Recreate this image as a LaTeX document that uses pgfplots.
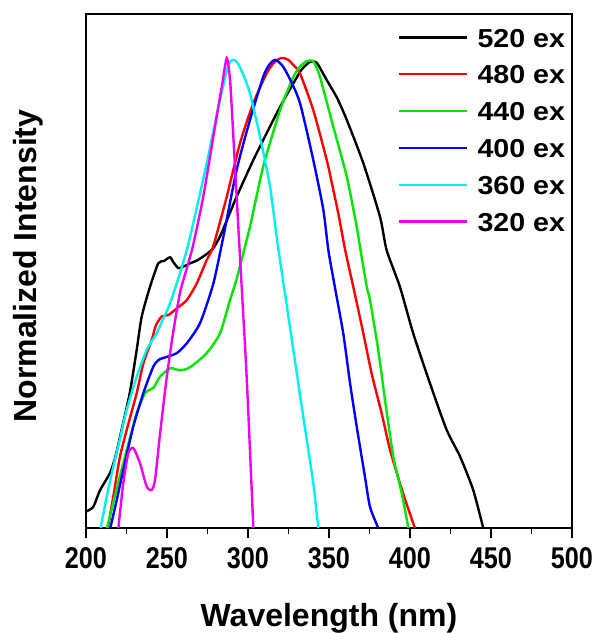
\documentclass[border=0pt]{standalone}
\usepackage{fontspec}
\setmainfont{Liberation Sans}
\newfontfamily\tickfont{Liberation Sans}[FakeStretch=0.84]
\newfontfamily\legfont{Liberation Sans}[FakeStretch=1.1]
\usepackage{pgfplots}
\pgfplotsset{compat=1.18}
\definecolor{cred}{RGB}{255,0,0}
\definecolor{cgreen}{RGB}{0,230,0}
\definecolor{cblue}{RGB}{0,0,255}
\definecolor{ccyan}{RGB}{0,240,240}
\definecolor{cmag}{RGB}{240,0,240}
\begin{document}
\begin{tikzpicture}
\useasboundingbox (-86pt,-105pt) rectangle (517pt,528pt);
\begin{axis}[
  scale only axis, width=486pt, height=514pt, at={(0pt,0pt)}, anchor=south west,
  xmin=200, xmax=500, ymin=0, ymax=1.0936,
  xtick={200,250,...,500}, minor x tick num=1, ytick=\empty,
  xtick pos=bottom, tick align=outside,
  major tick length=10pt, minor tick length=6pt,
  axis line style={line width=1.7pt},
  tick style={line width=1.7pt, black},
  /pgf/number format/assume math mode=true,
  xticklabel style={font=\tickfont\bfseries\fontsize{30}{30}\selectfont, inner sep=0pt, anchor=north, yshift=-9pt},
  xlabel={Wavelength (nm)},
  xlabel style={font=\bfseries\fontsize{32}{32}\selectfont, at={(axis description cs:0.5,0)}, anchor=north, inner sep=0pt, yshift=-75pt},
  ylabel={Normalized Intensity},
  ylabel style={font=\bfseries\fontsize{32}{32}\selectfont, at={([xshift=-43pt,yshift=5pt]axis description cs:0,0.5)}, anchor=south, inner sep=0pt},
  legend style={draw=none, fill=none, at={(axis description cs:1,1)}, anchor=north east, xshift=-7pt, yshift=-14pt, inner sep=0pt, outer sep=0pt,
    font=\legfont\bfseries\fontsize{26}{26}\selectfont, row sep=17.8pt, column sep=9pt,
    nodes={inner sep=0pt, text height=19pt, text depth=0pt}},
  legend cell align=left,
  legend image code/.code={\draw[#1, line width=2.2pt] (0pt,0pt) -- (68pt,0pt);},
  every axis plot/.append style={line width=2.4pt, smooth, tension=0.4},
]
% 520 ex
\addplot[black] coordinates {
(200,0.035) (204.5,0.045) (208.6,0.08) (214.8,0.117) (218,0.15) (221,0.194) (227,0.287) (231.3,0.379) (234.4,0.45) (239.5,0.513) (244.6,0.563) (248,0.568) (251.9,0.576) (254,0.565) (257,0.553) (260,0.556) (264.2,0.563) (269,0.57) (274.5,0.583) (278.5,0.595) (282.7,0.62) (287,0.655) (293,0.705) (303.3,0.783) (315.6,0.868) (322,0.91) (328,0.946) (333,0.975) (338.3,0.992) (342.4,0.99) (348.6,0.953) (355,0.915) (361,0.868) (371.2,0.776) (381.5,0.662) (385.6,0.591) (393.8,0.513) (402,0.414) (412.3,0.308) (422.6,0.209) (430.9,0.152) (439,0.081) (445.2,0.0)
};
\addlegendentry{520 ex}
% 480 ex
\addplot[cred] coordinates {
(213.5,0) (217,0.07) (221,0.152) (226,0.22) (231.3,0.287) (235.4,0.35) (240.6,0.4) (243,0.43) (246.7,0.45) (250.8,0.453) (256,0.467) (262.2,0.485) (268.3,0.52) (274.5,0.57) (278.6,0.6) (286.9,0.705) (295,0.818) (303.3,0.904) (311.5,0.967) (316,0.99) (320.5,1.0) (324.5,0.997) (328,0.985) (332.1,0.967) (340.3,0.889) (348.6,0.783) (352,0.73) (356,0.665) (360,0.591) (365,0.513) (371.2,0.414) (376.3,0.329) (382.5,0.244) (387.7,0.166) (393.8,0.095) (398,0.05) (403,0)
};
\addlegendentry{480 ex}
% 440 ex
\addplot[cgreen] coordinates {
(213,0) (218,0.07) (223,0.138) (227,0.19) (231.3,0.244) (236.4,0.287) (239.5,0.294) (242,0.3) (245.7,0.322) (251.9,0.34) (255,0.338) (258,0.336) (262,0.338) (266.2,0.347) (274.5,0.372) (282.7,0.414) (288.9,0.485) (293,0.53) (301.2,0.641) (309.4,0.769) (319.8,0.889) (328,0.96) (333,0.985) (336.2,0.993) (340.3,0.993) (344.4,0.96) (352.7,0.853) (361,0.747) (367.1,0.641) (369.5,0.591) (373.3,0.513) (375.3,0.485) (380.4,0.379) (384.6,0.272) (389.7,0.152) (394.9,0.074) (399,0)
};
\addlegendentry{440 ex}
% 400 ex
\addplot[cblue] coordinates {
(215,0) (219,0.06) (223,0.123) (229.2,0.216) (235.4,0.287) (241.5,0.343) (245,0.358) (249.8,0.364) (256,0.372) (262.2,0.393) (270.4,0.436) (278.6,0.52) (284.8,0.62) (293,0.762) (301.2,0.868) (309.4,0.96) (313,0.985) (316.5,0.996) (319.5,0.99) (322,0.98) (325.9,0.955) (332.1,0.904) (340.3,0.783) (346.5,0.677) (349.6,0.591) (353.5,0.515) (358.8,0.414) (363,0.308) (367.1,0.216) (372.2,0.109) (375.3,0.045) (380.4,0)
};
\addlegendentry{400 ex}
% 360 ex
\addplot[ccyan] coordinates {
(209,0) (213,0.07) (216.8,0.13) (221,0.19) (225.1,0.251) (231.3,0.322) (237.5,0.379) (243.6,0.414) (247,0.44) (251.9,0.478) (258,0.542) (262.2,0.591) (266.2,0.648) (274.5,0.776) (282.7,0.911) (287.9,0.985) (290.9,0.996) (293.5,0.99) (297,0.965) (301.2,0.925) (307.4,0.833) (313.6,0.726) (318.5,0.6) (328,0.379) (334.1,0.237) (340.3,0.095) (343.4,0)
};
\addlegendentry{360 ex}
% 320 ex
\addplot[cmag] coordinates {
(220,0) (223,0.095) (226.1,0.159) (229.2,0.17) (233.3,0.138) (237.5,0.088) (240.6,0.081) (242.6,0.102) (245.7,0.2) (249.8,0.32) (254,0.42) (258,0.5) (262,0.55) (266,0.6) (272.4,0.705) (278.6,0.833) (283.8,0.939) (286.9,1.0) (289,0.95) (291,0.83) (295,0.58) (299.2,0.32) (303.3,0)
};
\addlegendentry{320 ex}
\end{axis}
\end{tikzpicture}
\end{document}
